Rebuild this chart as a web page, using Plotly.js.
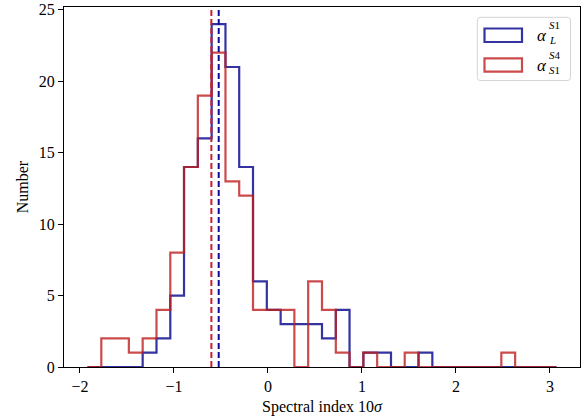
<!DOCTYPE html>
<html>
<head>
<meta charset="utf-8">
<script src="https://cdn.plot.ly/plotly-3.0.1.min.js"></script>
<style>
html,body{margin:0;padding:0;background:#fff;}
#chart{width:583px;height:416px;}
</style>
</head>
<body>
<div id="chart"></div>
<script>
// Shared bin edges (34 bins)
var binEdges = [-1.920, -1.773, -1.626, -1.480, -1.333, -1.186, -1.039, -0.893, -0.746, -0.599,
  -0.452, -0.306, -0.159, -0.012, 0.135, 0.281, 0.428, 0.575, 0.722, 0.868,
  1.015, 1.162, 1.309, 1.455, 1.602, 1.749, 1.896, 2.043, 2.189, 2.336,
  2.483, 2.630, 2.776, 2.923, 3.070];
// Counts per bin
var countsL_S1 = [0,0,0,0,1,2,5,14,16,24,21,14,6,4,3,3,3,2,4,0,1,1,0,0,1,0,0,0,0,0,0,0,0,0];
var countsS1_S4 = [0,2,2,1,2,4,8,14,19,22,13,12,4,4,4,0,6,4,1,0,1,0,0,1,0,0,0,0,0,0,1,0,0,0];
// Median lines
var medianL_S1 = -0.524;
var medianS1_S4 = -0.602;
var xTicks = [-2, -1, 0, 1, 2, 3];
var yTicks = [0, 5, 10, 15, 20, 25];

var blueHist = 'rgba(0,0,139,0.8)';
var redHist = 'rgba(190,30,30,0.8)';
var blueDash = '#0c0c98';
var redDash = '#c81e2d';
var FONT = 'Liberation Serif, "DejaVu Serif", serif';

function stepTrace(edges, counts, color) {
  var x = [edges[0]], y = [0];
  for (var i = 0; i < counts.length; i++) { x.push(edges[i]); y.push(counts[i]); }
  x.push(edges[edges.length - 1]); y.push(0);
  return {x: x, y: y, type: 'scatter', mode: 'lines', line: {shape: 'hv', color: color, width: 2.2},
          showlegend: false, hoverinfo: 'skip', cliponaxis: true};
}

// plot area geometry in pixels
var L = 64, T = 7, W = 516, H = 360;
function px(xp) { return (xp - L) / W; }
function py(yp) { return (T + H - yp) / H; }

function roundRect(x0, y0, x1, y1, r) {
  var a = px(x0), b = px(x1), c = py(y0), d = py(y1);
  var rx = r / W, ry = r / H;
  return 'M ' + (a + rx) + ' ' + c + ' L ' + (b - rx) + ' ' + c +
    ' Q ' + b + ' ' + c + ' ' + b + ' ' + (c - ry) +
    ' L ' + b + ' ' + (d + ry) + ' Q ' + b + ' ' + d + ' ' + (b - rx) + ' ' + d +
    ' L ' + (a + rx) + ' ' + d + ' Q ' + a + ' ' + d + ' ' + a + ' ' + (d + ry) +
    ' L ' + a + ' ' + (c - ry) + ' Q ' + a + ' ' + c + ' ' + (a + rx) + ' ' + c + ' Z';
}

var shapes = [
  {type: 'line', xref: 'x', yref: 'paper', x0: medianS1_S4, x1: medianS1_S4, y0: 0, y1: 1,
   line: {color: redDash, width: 2, dash: '6px,3px'}, layer: 'above'},
  {type: 'line', xref: 'x', yref: 'paper', x0: medianL_S1, x1: medianL_S1, y0: 0, y1: 1,
   line: {color: blueDash, width: 2, dash: '6px,3px'}, layer: 'above'},
  {type: 'path', xref: 'paper', yref: 'paper', path: roundRect(477.3, 17.3, 570.5, 80.5, 3),
   fillcolor: 'rgba(255,255,255,0.8)', line: {color: '#d4d4d4', width: 1}, layer: 'above'},
  {type: 'rect', xref: 'paper', yref: 'paper', x0: px(484.5), x1: px(522), y0: py(28.5), y1: py(42),
   fillcolor: 'rgba(0,0,0,0)', line: {color: blueHist, width: 2.2}, layer: 'above'},
  {type: 'rect', xref: 'paper', yref: 'paper', x0: px(484.5), x1: px(522), y0: py(58.3), y1: py(71.7),
   fillcolor: 'rgba(0,0,0,0)', line: {color: redHist, width: 2.2}, layer: 'above'}
];

function ann(text, xp, yp, size) {
  return {text: text, xref: 'paper', yref: 'paper', x: px(xp), y: py(yp), xanchor: 'left', yanchor: 'middle',
          showarrow: false, borderpad: 0, font: {family: FONT, size: size, color: '#000'}};
}
var annotations = [
  ann('<i>α</i>', 535.5, 35.5, 17),
  ann('<i>S</i>1', 547.5, 24.5, 11),
  ann('<i>L</i>', 547.5, 39.5, 11),
  ann('<i>α</i>', 535.5, 65.5, 17),
  ann('<i>S</i>4', 547.5, 55, 11),
  ann('<i>S</i>1', 547.5, 70, 11)
];

var data = [
  stepTrace(binEdges, countsL_S1, blueHist),
  stepTrace(binEdges, countsS1_S4, redHist)
];

var layout = {
  width: 583, height: 416,
  margin: {l: L, r: 583 - L - W, t: T, b: 416 - T - H},
  paper_bgcolor: '#fff', plot_bgcolor: '#fff',
  font: {family: FONT, size: 16, color: '#000'},
  showlegend: false,
  xaxis: {range: [-2.17, 3.32], tickvals: xTicks, ticks: 'outside', ticklen: 5, tickwidth: 1, tickcolor: '#000',
          showline: true, mirror: true, linecolor: '#000', linewidth: 1, showgrid: false, zeroline: false,
          tickfont: {family: FONT, size: 16}, fixedrange: true,
          title: {text: 'Spectral index 10<i>σ</i>', font: {family: FONT, size: 16}, standoff: 6}},
  yaxis: {range: [0, 25.2], tickvals: yTicks, ticks: 'outside', ticklen: 5, tickwidth: 1, tickcolor: '#000',
          showline: true, mirror: true, linecolor: '#000', linewidth: 1, showgrid: false, zeroline: false,
          tickfont: {family: FONT, size: 16}, fixedrange: true,
          title: {text: 'Number', font: {family: FONT, size: 16}, standoff: 6}},
  shapes: shapes,
  annotations: annotations
};

Plotly.newPlot('chart', data, layout, {staticPlot: true, displayModeBar: false});
</script>
</body>
</html>
